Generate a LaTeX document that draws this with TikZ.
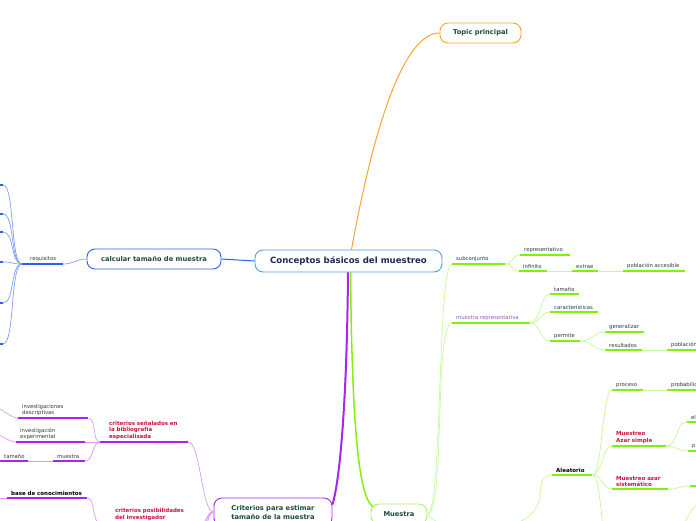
\documentclass[tikz,border=0pt]{standalone}
\usepackage{fontspec}
\setmainfont{DejaVu Sans}
\usetikzlibrary{positioning}
\definecolor{rootline}{HTML}{4D9EE0}
\definecolor{roottext}{HTML}{1B2C55}
\definecolor{topictext}{HTML}{1E4B3A}
\definecolor{labeltext}{HTML}{333333}
\definecolor{orangeline}{HTML}{F8A42C}
\definecolor{blueline}{HTML}{2D5FF0}
\definecolor{bluelight}{HTML}{809EF2}
\definecolor{purpleline}{HTML}{A526F0}
\definecolor{purplelight}{HTML}{D89CF8}
\definecolor{greenline}{HTML}{82F00A}
\definecolor{greenlight}{HTML}{C6F89E}
\definecolor{greenbox}{HTML}{AEEF6C}
\definecolor{crimson}{HTML}{C8143C}
\definecolor{violettext}{HTML}{9651C2}

\tikzset{
  topic/.style={draw, rounded corners=8pt, line width=0.9pt, fill=white, align=center,
    inner sep=0pt, text=topictext, font=\fontsize{6.7}{9}\selectfont\bfseries},
  leaf/.style={anchor=south west, inner xsep=4pt, inner ysep=2pt, align=left,
    text=labeltext, font=\fontsize{5.3}{6.7}\selectfont},
  redleaf/.style={leaf, text=crimson, font=\fontsize{5.5}{6.7}\selectfont\bfseries},
  boldleaf/.style={leaf, text=black, font=\fontsize{5.5}{6.7}\selectfont\bfseries},
  swoop/.style={to path={.. controls ([xshift=#1]\tikztostart)
    and ([xshift={-1*(#1)}]\tikztotarget) .. (\tikztotarget)}},
  swoop/.default=10pt,
  link/.style={line width=0.7pt},
  bar/.style={line width=2pt},
}

\begin{document}
\begin{tikzpicture}[x=1pt,y=-1pt]
\useasboundingbox (0,0) rectangle (696,520);
\clip (0,0) rectangle (696,520);

% main topics
\node[topic, draw=rootline, text=roottext, font=\fontsize{8.6}{10}\selectfont\bfseries,
  minimum width=187pt, minimum height=22pt] (root) at (348.5,261) {Conceptos básicos del muestreo};
\node[topic, draw=orangeline, minimum width=81pt, minimum height=20pt] (tpri) at (480.5,33) {Topic principal};
\node[topic, draw=blueline, minimum width=134pt, minimum height=20pt] (calc) at (154,259) {calcular tamaño de muestra};
\node[topic, draw=purpleline, minimum width=118pt, minimum height=28pt] (crit) at (273,512) {Criterios para estimar\\tamaño de la muestra};
\node[topic, draw=greenbox, minimum width=56pt, minimum height=20pt] (mues) at (399,514) {Muestra};

\draw[orangeline, line width=1pt] ([xshift=3pt]root.north) .. controls (375,120) and (405,33) .. (tpri.west);
\draw[blueline, line width=1pt] (root.west) -- (calc.east);
\draw[purpleline, line width=2pt] ([xshift=-0.5pt]root.south) .. controls (347,400) and (340,480) .. ([yshift=-7pt]crit.north east);
\draw[greenline, line width=1.5pt] ([xshift=2pt]root.south) .. controls (352,420) and (358,495) .. ([xshift=2pt,yshift=-3pt]mues.north west);

% blue branch
\node[leaf, inner xsep=8pt, text width=25pt] (requ) at (22,264) {requisitos};
\draw[bar, blueline] (requ.south west) -- (requ.south east);
\draw[link, bluelight] (calc.west) to[swoop=-10pt] (requ.south east);
\foreach \y [count=\i] in {185,214,232,262,303,344} {
  \coordinate (req\i) at (3,\y);
  \draw[bar, blueline] (req\i) -- ++(-10,0);
  \draw[link, bluelight] (requ.south west) to[swoop=-12pt] (req\i);
}

% green branch
\node[leaf, text width=45pt] (subc) at (452,264) {subconjunto};
\node[leaf, text width=42pt] (repr) at (520,255) {representativo};
\node[leaf, text width=20pt] (infi) at (519,271) {infinito};
\node[leaf, text width=18pt] (extr) at (572,271) {extrae};
\node[leaf, text width=54pt] (pacc) at (623,271) {población accesible};
\node[leaf, text width=70pt, text=violettext] (mrep) at (452,323) {muestra representativa};
\node[leaf, text width=21pt] (tama) at (550,294) {tamaño};
\node[leaf, text width=40pt] (cara) at (550,312) {características};
\node[leaf, text width=22pt] (perm) at (550,341) {permite};
\node[leaf, text width=31pt] (gene) at (605,332) {generalizar};
\node[leaf, text width=29pt] (resu) at (605,350) {resultados};
\node[leaf, text width=40pt] (pobl) at (667,350) {población};
\node[boldleaf, text width=32pt] (alea) at (552,475) {Aleatorio};
\node[leaf, text width=23pt] (proc) at (612,390) {proceso};
\node[leaf, text width=40pt] (prob) at (667,390) {probabilidad};
\node[redleaf, text width=46pt] (masi) at (612,446) {Muestreo\\Azar simple};
\node[leaf, text width=20pt] (elem) at (687,422) {el};
\node[leaf, text width=20pt] (pxxx) at (688,451) {p};
\node[redleaf, text width=48pt] (msis) at (612,489) {Muestreo azar\\sistemático};
\coordinate (sis1) at (690,486);
\coordinate (ale4) at (612,565);
\coordinate (low1) at (668,545);
\coordinate (low2) at (700,504);

\foreach \n in {subc,repr,infi,extr,pacc,mrep,tama,cara,perm,gene,resu,pobl,alea,proc,prob,masi,elem,pxxx,msis}
  \draw[bar, greenline] (\n.south west) -- (\n.south east);
\draw[bar, greenline] (sis1) -- ++(10,0);

\draw[link, greenlight] (mues.east) to[swoop=15pt] (subc.south west);
\draw[link, greenlight] (mues.east) to[swoop=18pt] (mrep.south west);
\draw[link, greenlight] (mues.east) .. controls (440,535) and (538,540) .. (540,495)
  .. controls (541,478) and (545,475) .. (alea.south west);
\draw[link, greenlight] (subc.south east) to[swoop=8pt] (repr.south west);
\draw[link, greenlight] (subc.south east) to[swoop=8pt] (infi.south west);
\draw[link, greenlight] (infi.south east) -- (extr.south west);
\draw[link, greenlight] (extr.south east) -- (pacc.south west);
\foreach \n in {tama,cara,perm}
  \draw[link, greenlight] (mrep.south east) to[swoop=10pt] (\n.south west);
\draw[link, greenlight] (perm.south east) to[swoop=12pt] (gene.south west);
\draw[link, greenlight] (perm.south east) to[swoop=12pt] (resu.south west);
\draw[link, greenlight] (resu.south east) -- (pobl.south west);
\foreach \n in {proc,masi,msis}
  \draw[link, greenlight] (alea.south east) to[swoop=10pt] (\n.south west);
\draw[link, greenlight] (alea.south east) to[swoop=10pt] (ale4);
\draw[link, greenlight] (proc.south east) -- (prob.south west);
\draw[link, greenlight] (masi.south east) to[swoop=12pt] (elem.south west);
\draw[link, greenlight] (masi.south east) to[swoop=12pt] (pxxx.south west);
\draw[link, greenlight] (msis.south east) to[swoop=12pt] (sis1);
\draw[link, greenlight] (low1) to[swoop=12pt] (low2);

% purple branch
\node[redleaf, inner xsep=9pt, text width=70pt] (csen) at (100,442) {criterios señalados en\\la bibliografía\\especializada};
\node[leaf, text width=62pt] (desc) at (18,418) {investigaciones\\descriptivas};
\node[leaf, text width=61pt] (expe) at (16,442) {investigación\\experimental};
\node[leaf, text width=24pt] (msta) at (53,461) {muestra};
\node[leaf, text width=20pt] (tamb) at (0,461) {tamaño};
\node[boldleaf, text width=72pt] (base) at (7,498) {base de conocimientos};
\node[redleaf, inner xsep=15pt, text width=70pt] (cpos) at (100,523) {criterios posibilidades\\del investigador};
\coordinate (des0) at (-10,405);
\coordinate (exp0) at (-10,432);
\coordinate (bas0) at (-5,498);
\coordinate (cri4) at (190,560);
\coordinate (cri5) at (185,600);

\foreach \n in {csen,desc,expe,msta,tamb,base,cpos}
  \draw[bar, purpleline] (\n.south west) -- (\n.south east);

\draw[link, purplelight] (crit.west) to[swoop=-12pt] (csen.south east);
\draw[link, purplelight] (crit.west) to[swoop=-8pt] (cpos.south east);
\draw[link, purplelight] (crit.west) to[swoop=-10pt] (cri4);
\draw[link, purplelight] (crit.west) to[swoop=-10pt] (cri5);
\foreach \n in {desc,expe,msta}
  \draw[link, purplelight] (csen.south west) to[swoop=-8pt] (\n.south east);
\draw[link, purplelight] (msta.south west) -- (tamb.south east);
\draw[link, purplelight] (desc.south west) to[swoop=-8pt] (des0);
\draw[link, purplelight] (expe.south west) to[swoop=-8pt] (exp0);
\draw[link, purplelight] (base.south west) -- (bas0);
\draw[link, purplelight] (base.south east) to[swoop=8pt] (cpos.south west);
\end{tikzpicture}
\end{document}
